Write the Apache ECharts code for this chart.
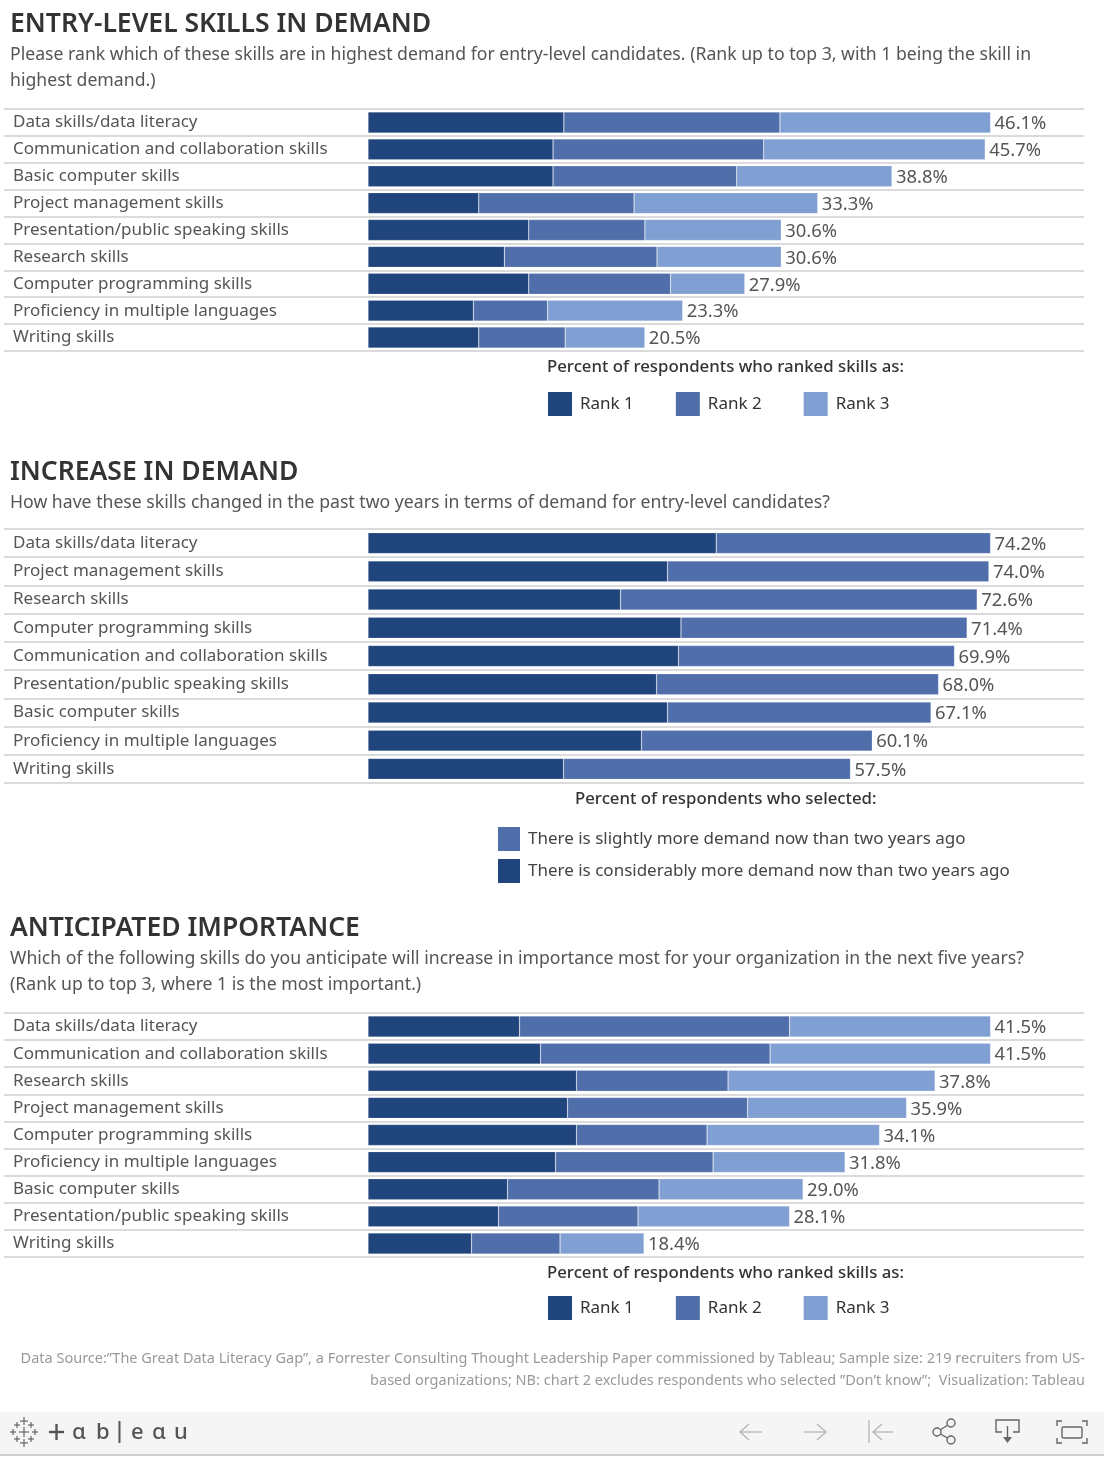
<!DOCTYPE html>
<html>
<head>
<meta charset="utf-8">
<title>Entry-level skills</title>
<script src="https://cdn.jsdelivr.net/npm/echarts@6/dist/echarts.min.js"></script>
<style>
html, body { margin: 0; padding: 0; background: #fff; }
#main { width: 1110px; height: 1464px; }
</style>
</head>
<body>
<div id="main"></div>
<script>
// chart 1
var demandSkills = ['Data skills/data literacy', 'Communication and collaboration skills', 'Basic computer skills', 'Project management skills', 'Presentation/public speaking skills', 'Research skills', 'Computer programming skills', 'Proficiency in multiple languages', 'Writing skills'];
var demandRank1 = [14.5, 13.7, 13.7, 8.2, 11.9, 10.1, 11.9, 7.8, 8.2];
var demandRank2 = [16.0, 15.6, 13.6, 11.5, 8.6, 11.3, 10.5, 5.5, 6.4];
var demandRank3 = [15.6, 16.4, 11.5, 13.6, 10.1, 9.2, 5.5, 10.0, 5.9];
var demandTotals = [46.1, 45.7, 38.8, 33.3, 30.6, 30.6, 27.9, 23.3, 20.5];

// chart 2
var increaseSkills = ['Data skills/data literacy', 'Project management skills', 'Research skills', 'Computer programming skills', 'Communication and collaboration skills', 'Presentation/public speaking skills', 'Basic computer skills', 'Proficiency in multiple languages', 'Writing skills'];
var increaseConsiderably = [41.5, 35.7, 30.1, 37.3, 37.0, 34.4, 35.7, 32.6, 23.3];
var increaseSlightly = [32.7, 38.3, 42.5, 34.1, 32.9, 33.6, 31.4, 27.5, 34.2];
var increaseTotals = [74.2, 74.0, 72.6, 71.4, 69.9, 68.0, 67.1, 60.1, 57.5];

// chart 3
var anticipatedSkills = ['Data skills/data literacy', 'Communication and collaboration skills', 'Research skills', 'Project management skills', 'Computer programming skills', 'Proficiency in multiple languages', 'Basic computer skills', 'Presentation/public speaking skills', 'Writing skills'];
var anticipatedRank1 = [10.1, 11.5, 13.9, 13.3, 13.9, 12.5, 9.3, 8.7, 6.9];
var anticipatedRank2 = [18.0, 15.3, 10.1, 12.0, 8.7, 10.5, 10.1, 9.3, 5.9];
var anticipatedRank3 = [13.4, 14.7, 13.8, 10.6, 11.5, 8.8, 9.6, 10.1, 5.6];
var anticipatedTotals = [41.5, 41.5, 37.8, 35.9, 34.1, 31.8, 29.0, 28.1, 18.4];

var rankNames = ['Rank 1', 'Rank 2', 'Rank 3'];
var slightlyName = 'There is slightly more demand now than two years ago';
var considerablyName = 'There is considerably more demand now than two years ago';

var DARK = '#20447c', MID = '#506eaa', LIGHT = '#809fd2';
var FONT = '"Noto Sans", sans-serif';

var chart = echarts.init(document.getElementById('main'));

// the rules run from x=4 to x=1084, the bars start at x=368 and the longest ends at x=990
function scaleFor(totals) {
    var pxPerUnit = (990.6 - 368) / totals[0];
    return { min: -(368 - 4) / pxPerUnit, max: (1084 - 368) / pxPerUnit };
}

var grids = [], xAxes = [], yAxes = [], series = [];

function addChart(top, height, skills, totals, parts) {
    var i = grids.length;
    var s = scaleFor(totals);
    grids.push({ left: 4, width: 1080, top: top, height: height });
    xAxes.push({ gridIndex: i, type: 'value', min: s.min, max: s.max, show: false });
    yAxes.push({
        gridIndex: i,
        type: 'category',
        inverse: true,
        data: skills,
        axisLine: { show: false },
        axisTick: { show: false },
        axisLabel: { inside: true, margin: 9, align: 'left', color: '#555', fontSize: 17, fontFamily: FONT, padding: [0, 0, 6, 0] },
        splitLine: { show: true, interval: 0, lineStyle: { color: '#cfcfcf', width: 1.5 } }
    });
    parts.forEach(function (p, n) {
        var item = {
            name: p.name,
            type: 'bar',
            stack: 'chart' + i,
            xAxisIndex: i,
            yAxisIndex: i,
            barWidth: 21,
            data: p.data,
            itemStyle: { color: p.color, borderColor: 'rgba(255,255,255,0.3)', borderWidth: 0.6 }
        };
        if (n === parts.length - 1) {
            item.label = {
                show: true,
                position: 'right',
                distance: 4,
                offset: [0, 1.5],
                color: '#555',
                fontSize: 18.4,
                fontFamily: FONT,
                formatter: function (d) { return totals[d.dataIndex].toFixed(1) + '%'; }
            };
        }
        series.push(item);
    });
}

addChart(109, 242, demandSkills, demandTotals, [
    { name: rankNames[0], data: demandRank1, color: DARK },
    { name: rankNames[1], data: demandRank2, color: MID },
    { name: rankNames[2], data: demandRank3, color: LIGHT }
]);
addChart(529, 254, increaseSkills, increaseTotals, [
    { name: considerablyName, data: increaseConsiderably, color: DARK },
    { name: slightlyName, data: increaseSlightly, color: MID }
]);
addChart(1013, 244, anticipatedSkills, anticipatedTotals, [
    { name: rankNames[0], data: anticipatedRank1, color: DARK },
    { name: rankNames[1], data: anticipatedRank2, color: MID },
    { name: rankNames[2], data: anticipatedRank3, color: LIGHT }
]);

function head(text, top) {
    return { text: text, left: 10, top: top, padding: 0, textStyle: { fontFamily: FONT, fontSize: 26.5, fontWeight: 600, color: '#333' } };
}
function sub(text, top) {
    return { text: text, left: 10, top: top, padding: 0, textStyle: { fontFamily: FONT, fontSize: 17.65, fontWeight: 400, color: '#555', lineHeight: 26 } };
}
function legendHead(text, left, top) {
    return { text: text, left: left, top: top, padding: 0, textStyle: { fontFamily: FONT, fontSize: 16.8, fontWeight: 500, color: '#333' } };
}
function rankLegend(top) {
    return {
        left: 548, top: top, padding: 0, itemWidth: 24, itemHeight: 24, itemGap: 42,
        icon: 'rect', selectedMode: false, data: rankNames,
        itemStyle: { borderWidth: 0 },
        textStyle: { fontFamily: FONT, fontSize: 17, color: '#333', padding: [0, 0, 0, 3] }
    };
}

var titles = [
    head('ENTRY-LEVEL SKILLS IN DEMAND', 11),
    sub('Please rank which of these skills are in highest demand for entry-level candidates. (Rank up to top 3, with 1 being the skill in\nhighest demand.)', 42),
    legendHead('Percent of respondents who ranked skills as:', 547, 359),
    head('INCREASE IN DEMAND', 459),
    sub('How have these skills changed in the past two years in terms of demand for entry-level candidates?', 490),
    legendHead('Percent of respondents who selected:', 575, 791),
    head('ANTICIPATED IMPORTANCE', 915),
    sub('Which of the following skills do you anticipate will increase in importance most for your organization in the next five years?\n(Rank up to top 3, where 1 is the most important.)', 946),
    legendHead('Percent of respondents who ranked skills as:', 547, 1265),
    {
        text: 'Data Source:\u201dThe Great Data Literacy Gap\u201d, a Forrester Consulting Thought Leadership Paper commissioned by Tableau; Sample size: 219 recruiters from US-\nbased organizations; NB: chart 2 excludes respondents who selected \u201dDon\u2019t know\u201d;  Visualization: Tableau',
        left: 1085, top: 1348, padding: 0, textAlign: 'right',
        textStyle: { fontFamily: FONT, fontSize: 14.5, fontWeight: 400, color: '#999', lineHeight: 22 }
    }
];

var legends = [
    rankLegend(392),
    {
        left: 498, top: 827, padding: 0, orient: 'vertical', itemWidth: 22, itemHeight: 24, itemGap: 8,
        icon: 'rect', selectedMode: false, data: [slightlyName, considerablyName],
        itemStyle: { borderWidth: 0 },
        textStyle: { fontFamily: FONT, fontSize: 17, color: '#444', padding: [0, 0, 0, 3] }
    },
    rankLegend(1296)
];

// toolbar at the bottom of the embed
var graphics = [
    { type: 'rect', silent: true, z: -1, shape: { x: 0, y: 1412, width: 1104, height: 42 }, style: { fill: '#f5f5f5' } },
    { type: 'rect', silent: true, z: -1, shape: { x: 0, y: 1454, width: 1104, height: 2 }, style: { fill: '#d0d0d0' } }
];

function line(x1, y1, x2, y2, color, width) {
    graphics.push({ type: 'line', silent: true, shape: { x1: x1, y1: y1, x2: x2, y2: y2 }, style: { stroke: color, lineWidth: width } });
}
function poly(points, color, width) {
    graphics.push({ type: 'polyline', silent: true, shape: { points: points }, style: { stroke: color, lineWidth: width, fill: 'none' } });
}

var logoCrosses = [[24, 1421, 4], [17, 1425, 3], [31, 1425, 3], [13, 1432, 3], [24, 1432, 5], [35, 1432, 3], [17, 1439, 3], [31, 1439, 3], [24, 1443, 4]];
logoCrosses.forEach(function (c) {
    line(c[0] - c[2], c[1], c[0] + c[2], c[1], '#666', 1.2);
    line(c[0], c[1] - c[2], c[0], c[1] + c[2], '#666', 1.2);
});

line(49, 1432, 64, 1432, '#555', 2.4);
line(56.5, 1424, 56.5, 1440, '#555', 2.4);
line(119.5, 1421, 119.5, 1443, '#555', 2);

var logoLetters = [['\u0251', 72], ['b', 96], ['e', 131], ['\u0251', 152], ['u', 174]];
logoLetters.forEach(function (l) {
    graphics.push({ type: 'text', silent: true, style: { text: l[0], x: l[1], y: 1422, fill: '#555', font: '500 22px "Noto Sans"' } });
});

var faint = '#b4b4b4', icon = '#666';
line(740, 1432, 762, 1432, faint, 1.3); poly([[749, 1424], [740, 1432], [749, 1440]], faint, 1.3);
line(804, 1432, 826, 1432, faint, 1.3); poly([[817, 1424], [826, 1432], [817, 1440]], faint, 1.3);
line(869, 1420, 869, 1443, faint, 1.3);
line(873, 1432, 893, 1432, faint, 1.3); poly([[882, 1424], [873, 1432], [882, 1440]], faint, 1.3);

line(937, 1432, 951, 1423, icon, 1.4);
line(937, 1432, 951, 1440, icon, 1.4);
[[937, 1432], [951, 1423], [951, 1440]].forEach(function (c) {
    graphics.push({ type: 'circle', silent: true, z: 2, shape: { cx: c[0], cy: c[1], r: 4 }, style: { stroke: icon, lineWidth: 1.4, fill: '#f5f5f5' } });
});

poly([[1002, 1432], [996, 1432], [996, 1420], [1019, 1420], [1019, 1432], [1013, 1432]], icon, 1.4);
line(1007.5, 1426, 1007.5, 1438, icon, 1.4);
graphics.push({ type: 'polygon', silent: true, shape: { points: [[1003, 1437], [1012, 1437], [1007.5, 1443]] }, style: { fill: icon } });

graphics.push({ type: 'rect', silent: true, shape: { x: 1062, y: 1427, width: 20, height: 11, r: 1.5 }, style: { stroke: icon, lineWidth: 1.4, fill: 'none' } });
poly([[1057, 1426], [1057, 1421], [1062, 1421]], icon, 1.4);
poly([[1082, 1421], [1087, 1421], [1087, 1426]], icon, 1.4);
poly([[1057, 1438], [1057, 1443], [1062, 1443]], icon, 1.4);
poly([[1082, 1443], [1087, 1443], [1087, 1438]], icon, 1.4);

chart.setOption({
    animation: false,
    backgroundColor: '#fff',
    title: titles,
    legend: legends,
    grid: grids,
    xAxis: xAxes,
    yAxis: yAxes,
    series: series,
    graphic: { elements: graphics }
});
</script>
</body>
</html>
